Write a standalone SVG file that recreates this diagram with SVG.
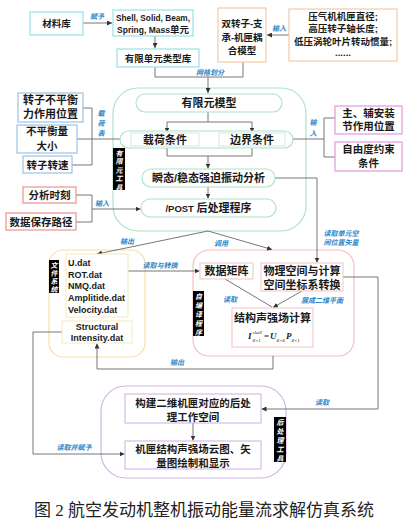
<svg xmlns="http://www.w3.org/2000/svg" width="409" height="528" viewBox="0 0 409 528">
<style>
.t{font-family:"Liberation Sans","Noto Sans CJK SC",sans-serif;font-weight:bold;fill:#1a1a1a;text-anchor:middle;font-size:10.5px}
.s{font-size:9.5px}
.l{font-family:"Liberation Sans","Noto Sans CJK SC",sans-serif;font-weight:bold;fill:#1a1a1a;font-size:9px}
.lb{font-family:"Liberation Sans","Noto Sans CJK SC",sans-serif;font-style:italic;font-weight:bold;fill:#2b86c8;font-size:7px;text-anchor:middle}
.vt{font-family:"Liberation Sans","Noto Sans CJK SC",sans-serif;font-style:italic;font-weight:bold;fill:#fff;font-size:7px;text-anchor:middle}
.bk{fill:#000}
.cy{fill:#fff;stroke:#98e2ea;stroke-width:1.2}
.pe{fill:#fff;stroke:#f5caa6;stroke-width:1.2}
.bl{fill:#fff;stroke:#9cc4e6;stroke-width:1.2}
.mg{fill:#fff;stroke:#e597dc;stroke-width:1.2}
.rd{fill:#fff;stroke:#ee9090;stroke-width:1.2}
.gc{fill:#fff;stroke:#ade3ca;stroke-width:1.2}
.gi{fill:#fff;stroke:#cdeedd;stroke-width:1}
.yc{fill:#fff;stroke:#f7e0a3;stroke-width:1.2}
.yi{fill:#fff;stroke:#f8e9bb;stroke-width:1}
.rc{fill:#fff;stroke:#f5bfbf;stroke-width:1.2}
.ri{fill:#fff;stroke:#f3c3c3;stroke-width:1}
.pc{fill:#fff;stroke:#d0b5e5;stroke-width:1.2}
.pi{fill:#fff;stroke:#cbb0e1;stroke-width:1}
.c{fill:none;stroke:#777;stroke-width:1}
.a{marker-end:url(#ar)}
.f{font-family:"Liberation Serif",serif;font-style:italic;font-weight:bold;fill:#222;font-size:9px}
.fs{font-family:"Liberation Serif",serif;font-style:italic;fill:#222;font-size:5px}
</style>
<defs>
<marker id="ar" markerWidth="5" markerHeight="5" refX="5" refY="2.5" orient="auto" markerUnits="userSpaceOnUse">
<path d="M0,0 L5,2.5 L0,5 z" fill="#333"/>
</marker>
</defs>
<rect width="409" height="528" fill="#fff"/>

<!-- containers -->
<g id="fem-tool">
<rect class="gc" x="113" y="88" width="193" height="143" rx="25"/>
<rect class="bk" x="113" y="148" width="12" height="42"/>
<text class="vt" x="119" y="156">有<tspan x="119" dy="8.4">限</tspan><tspan x="119" dy="8.4">元</tspan><tspan x="119" dy="8.4">工</tspan><tspan x="119" dy="8.4">具</tspan></text>
</g>
<g id="file-system">
<rect class="yc" x="49" y="250" width="96" height="107" rx="14"/>
<rect class="bk" x="49" y="260" width="10" height="33"/>
<text class="vt" x="54" y="267.5">文<tspan x="54" dy="8">件</tspan><tspan x="54" dy="8">系</tspan><tspan x="54" dy="8">统</tspan></text>
</g>
<g id="self-program">
<rect class="rc" x="193" y="250" width="161" height="106" rx="16"/>
<rect class="bk" x="193" y="291" width="11" height="45"/>
<text class="vt" x="198.5" y="298.5">自<tspan x="198.5" dy="9">编</tspan><tspan x="198.5" dy="9">译</tspan><tspan x="198.5" dy="9">程</tspan><tspan x="198.5" dy="9">序</tspan></text>
</g>
<g id="post-tool">
<rect class="pc" x="101" y="386" width="185" height="92" rx="25"/>
<rect class="bk" x="274" y="417" width="12" height="45"/>
<text class="vt" x="280" y="424.5">后<tspan x="280" dy="9">处</tspan><tspan x="280" dy="9">理</tspan><tspan x="280" dy="9">工</tspan><tspan x="280" dy="9">具</tspan></text>
</g>

<!-- connectors -->
<g id="connectors">
<path class="c a" d="M83,23 H112"/>
<path class="c a" d="M155,36 V48"/>
<path class="c" d="M155,67 V77 H243 V62"/>
<path class="c a" d="M208,77 V93"/>
<path class="c a" d="M289,35 H267"/>
<path class="c" d="M83,108 H92 V165 H72"/>
<path class="c a" d="M77,139 H129"/>
<path class="c" d="M208,112 V122 M167,122 H252"/>
<path class="c a" d="M167,122 V132.5"/>
<path class="c a" d="M252,122 V132.5"/>
<path class="c" d="M167,146 V156 H252 V146"/>
<path class="c a" d="M208,156 V168.5"/>
<path class="c a" d="M208,187 V198.5"/>
<path class="c" d="M335,118 H324 V157 H335"/>
<path class="c a" d="M324,139 H286"/>
<path class="c" d="M76,195 H92 V222 H76"/>
<path class="c a" d="M92,209 H140.5"/>
<path class="c a" d="M208,231 L97,254"/>
<path class="c a" d="M208,231 L272,249.5"/>
<path class="c a" d="M275,178 H317 V262.5"/>
<path class="c a" d="M128,271 H199.5"/>
<path class="c" d="M225,279 L272,307"/>
<path class="c a" d="M302,291 L273,307.5"/>
<path class="c a" d="M343,277 H378 V409 H261.5"/>
<path class="c a" d="M273,356 V369 H97 V343.5"/>
<path class="c a" d="M62,332 H33 V454 H124.5"/>
<path class="c a" d="M193,423 V440.5"/>
<text class="lb" x="97" y="19">赋予</text>
<text class="lb" x="210" y="75">网格划分</text>
<text class="lb" x="279" y="31">输入</text>
<text class="lb" x="101" y="116">载<tspan x="101" dy="10">荷</tspan><tspan x="101" dy="10">表</tspan></text>
<text class="lb" x="313" y="124.5">输<tspan x="313" dy="11">入</tspan></text>
<text class="lb" x="102" y="206">输入</text>
<text class="lb" x="127" y="244">输出</text>
<text class="lb" x="221" y="246">调用</text>
<text class="lb" x="341" y="236">读取单元空</text>
<text class="lb" x="341" y="245">间位置矢量</text>
<text class="lb" x="160" y="268">读取与转换</text>
<text class="lb" x="230" y="302">读取</text>
<text class="lb" x="322" y="303">展成二维平面</text>
<text class="lb" x="322" y="405">读取</text>
<text class="lb" x="177" y="364.5">输出</text>
<text class="lb" x="74" y="450">读取并赋予</text>
</g>

<!-- nodes -->
<g id="material-lib">
<rect class="cy" x="30" y="12" width="53" height="23"/>
<text class="t s" x="56.5" y="27">材料库</text>
</g>
<g id="element-types">
<rect class="cy" x="113" y="10" width="80" height="26"/>
<text class="t" x="153" y="21" style="font-size:8.5px" textLength="74" lengthAdjust="spacingAndGlyphs">Shell, Solid, Beam,</text>
<text class="t" x="153" y="32.5" style="font-size:8.5px">Spring, Mass<tspan style="font-size:9.5px">单元</tspan></text>
</g>
<g id="element-lib">
<rect class="cy" x="117" y="49" width="82" height="18"/>
<text class="t s" x="158" y="61.5">有限单元类型库</text>
</g>
<g id="coupled-model">
<rect class="pe" x="218" y="8" width="48" height="54"/>
<text class="t s" x="242" y="26.5">双转子-支</text>
<text class="t s" x="242" y="40.5">承-机匣耦</text>
<text class="t s" x="242" y="53.5">合模型</text>
</g>
<g id="params">
<rect class="pe" x="289" y="9" width="108" height="52"/>
<text class="t s" x="343" y="19.5">压气机机匣直径;</text>
<text class="t s" x="343" y="31.5">高压转子轴长度;</text>
<text class="t s" x="343" y="44.5">低压涡轮叶片转动惯量;</text>
<text class="t s" x="343" y="56">......</text>
</g>
<g id="unbalance-pos">
<rect class="bl" x="18" y="93" width="65" height="29"/>
<text class="t" x="50.5" y="104" style="font-size:11px">转子不平衡</text>
<text class="t" x="50.5" y="118" style="font-size:11px">力作用位置</text>
</g>
<g id="unbalance-mag">
<rect class="bl" x="17" y="125" width="60" height="28"/>
<text class="t" x="47" y="135">不平衡量</text>
<text class="t" x="47" y="150">大小</text>
</g>
<g id="rotor-speed">
<rect class="bl" x="23" y="156" width="49" height="17"/>
<text class="t" x="47.5" y="168.5">转子转速</text>
</g>
<g id="analysis-time">
<rect class="rd" x="23" y="187" width="53" height="16"/>
<text class="t" x="49.5" y="199">分析时刻</text>
</g>
<g id="save-path">
<rect class="rd" x="6" y="213" width="70" height="17"/>
<text class="t" x="41" y="225.5">数据保存路径</text>
</g>
<g id="mount-pos">
<rect class="mg" x="335" y="106" width="67" height="28"/>
<text class="t" x="368.5" y="116.5">主、辅安装</text>
<text class="t" x="368.5" y="130">节作用位置</text>
</g>
<g id="dof">
<rect class="mg" x="335" y="142" width="67" height="29"/>
<text class="t" x="368.5" y="152.5">自由度约束</text>
<text class="t" x="368.5" y="167">条件</text>
</g>
<g id="fem-model">
<rect class="gc" x="136" y="94" width="146" height="18" rx="9"/>
<text class="t" x="209" y="107" style="font-size:11px">有限元模型</text>
</g>
<g id="conditions">
<rect class="gc" x="120" y="131" width="173" height="17" rx="8.5"/>
<rect class="gi" x="131" y="133" width="68" height="13"/>
<text class="t" x="165" y="144" style="font-size:11px">载荷条件</text>
<rect class="gi" x="219" y="133" width="66" height="13"/>
<text class="t" x="252" y="144" style="font-size:11px">边界条件</text>
</g>
<g id="vib-analysis">
<rect class="gc" x="142" y="169" width="133" height="18" rx="9"/>
<text class="t" x="208.5" y="182" style="font-size:11px">瞬态/稳态强迫振动分析</text>
</g>
<g id="post">
<rect class="gc" x="141" y="199" width="135" height="18" rx="9"/>
<text class="t" x="208.5" y="212" style="font-size:11px"><tspan style="font-size:9.5px">/POST </tspan>后处理程序</text>
</g>
<g id="dat-files">
<rect class="yi" x="66" y="254" width="62" height="63"/>
<text class="l" x="68" y="265.5">U.dat</text>
<text class="l" x="68" y="277.5">ROT.dat</text>
<text class="l" x="68" y="289">NMQ.dat</text>
<text class="l" x="68" y="300.5">Amplitide.dat</text>
<text class="l" x="68" y="312.5">Velocity.dat</text>
</g>
<g id="si-dat">
<rect class="yi" x="62" y="321" width="70" height="22"/>
<text class="t" x="97" y="329.5" style="font-size:9px">Structural</text>
<text class="t" x="97" y="340.5" style="font-size:9px">Intensity.dat</text>
</g>
<g id="data-matrix">
<rect class="ri" x="200" y="263" width="53" height="16"/>
<text class="t" x="226.5" y="275" style="font-size:11px">数据矩阵</text>
</g>
<g id="coord-transform">
<rect class="ri" x="261" y="263" width="82" height="28"/>
<text class="t" x="302" y="275" style="font-size:11px">物理空间与计算</text>
<text class="t" x="302" y="289" style="font-size:11px">空间坐标系转换</text>
</g>
<g id="si-calc">
<rect class="ri" x="232" y="308" width="81" height="39"/>
<text class="t" x="272.5" y="321.5" style="font-size:11px">结构声强场计算</text>
<text class="f" x="248" y="339">I</text>
<text class="fs" x="252.5" y="334">shell</text>
<text class="fs" x="252.5" y="341.5">8×1</text>
<text class="f" x="264" y="339" style="font-style:normal;font-weight:normal">=</text>
<text class="f" x="270" y="339">U</text>
<text class="fs" x="276.5" y="341.5">8×8</text>
<text class="f" x="286" y="339">P</text>
<text class="fs" x="291.5" y="341.5">8×1</text>
</g>
<g id="workspace">
<rect class="pi" x="125" y="394" width="136" height="29"/>
<text class="t" x="193" y="407">构建二维机匣对应的后处</text>
<text class="t" x="193" y="421">理工作空间</text>
</g>
<g id="plot">
<rect class="pi" x="125" y="441" width="136" height="28"/>
<text class="t" x="193" y="453">机匣结构声强场云图、矢</text>
<text class="t" x="193" y="467">量图绘制和显示</text>
</g>
<text x="204" y="516" style="font-family:'Liberation Serif','Noto Sans CJK SC',serif;font-size:17px;fill:#222;text-anchor:middle">图 2 航空发动机整机振动能量流求解仿真系统</text>
</svg>
